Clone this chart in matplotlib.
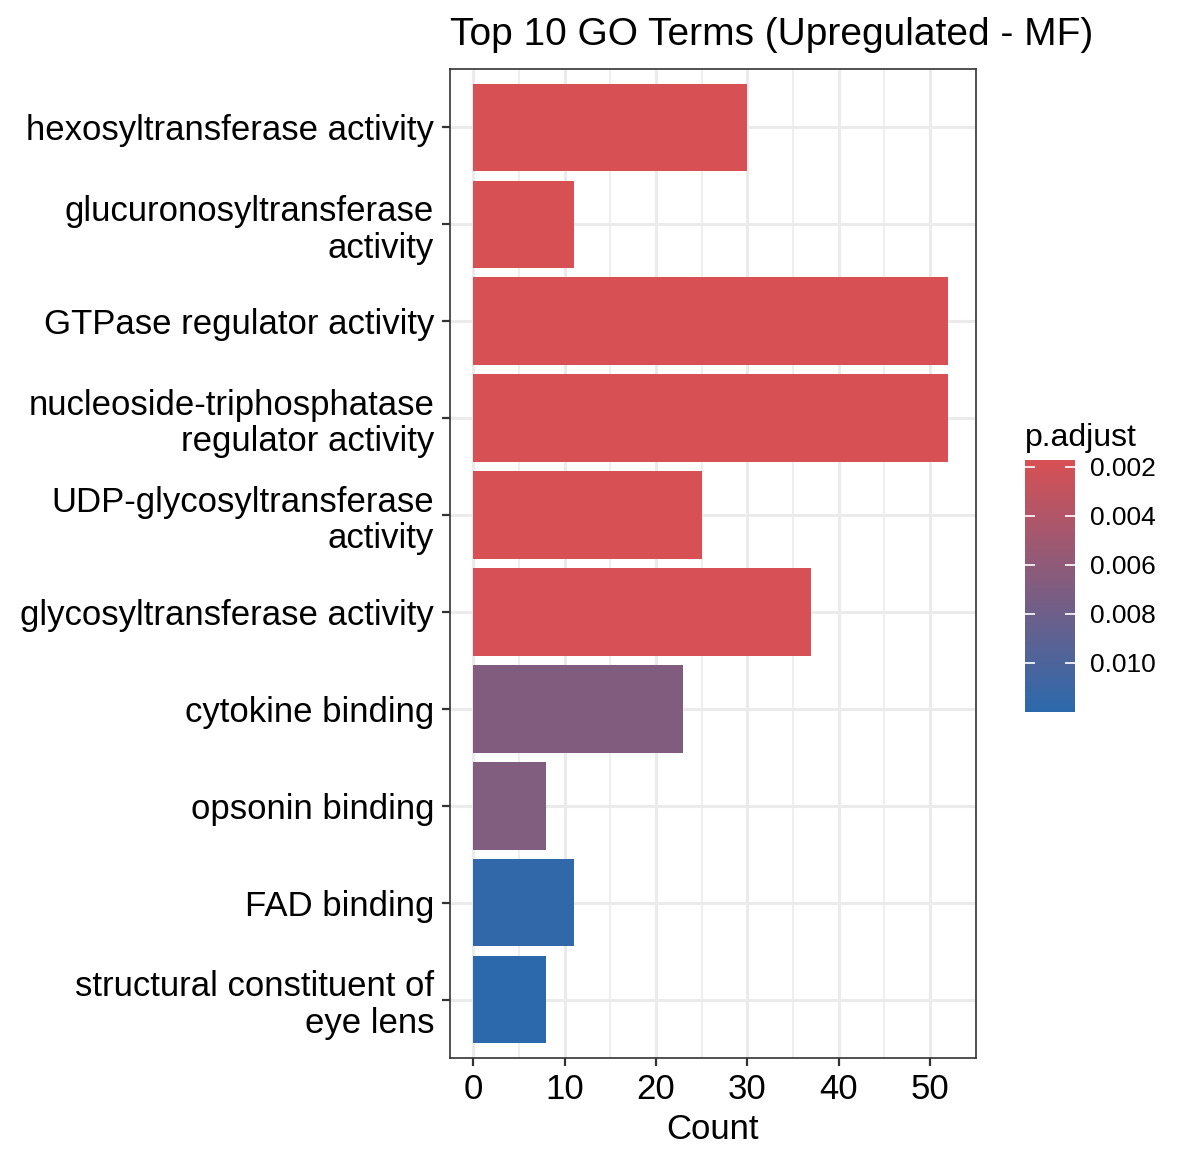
import matplotlib
matplotlib.use("Agg")
import matplotlib.pyplot as plt
from matplotlib.colors import LinearSegmentedColormap, Normalize
from matplotlib.cm import ScalarMappable
import numpy as np

# GO terms, top to bottom as shown
terms = [
    "hexosyltransferase activity",
    "glucuronosyltransferase\nactivity",
    "GTPase regulator activity",
    "nucleoside-triphosphatase\nregulator activity",
    "UDP-glycosyltransferase\nactivity",
    "glycosyltransferase activity",
    "cytokine binding",
    "opsonin binding",
    "FAD binding",
    "structural constituent of\neye lens",
]
counts = [30, 11, 52, 52, 25, 37, 23, 8, 11, 8]
p_adjust = [0.00172, 0.00175, 0.00176, 0.00176, 0.00180, 0.00182,
            0.0068, 0.0069, 0.0117, 0.0120]
x_ticks = [0, 10, 20, 30, 40, 50]
cbar_ticks = [0.002, 0.004, 0.006, 0.008, 0.010]

plt.rcParams["font.family"] = ["Liberation Sans", "DejaVu Sans"]

fig = plt.figure(figsize=(11.88, 11.63), dpi=100)
ax = fig.add_axes([449.5 / 1188, 1 - 1058 / 1163, 526 / 1188, 989 / 1163])

cmap = LinearSegmentedColormap.from_list("padj", ["#d75054", "#2b69ac"])
norm = Normalize(vmin=min(p_adjust), vmax=max(p_adjust))

n = len(terms)
ypos = np.arange(n)[::-1] + 1
ax.barh(ypos, counts, height=0.9, color=cmap(norm(np.array(p_adjust))), zorder=3)

xmax = max(counts)
ax.set_xlim(-0.05 * xmax, 1.05 * xmax)
ax.set_ylim(0.4, n + 0.6)

ax.set_xticks(x_ticks)
ax.set_xticks([5, 15, 25, 35, 45, 55], minor=True)
ax.set_yticks(ypos)
ax.set_yticklabels(terms, ha="right", linespacing=1.15)
ax.grid(True, which="major", color="#ebebeb", linewidth=2.2, zorder=0)
ax.grid(True, which="minor", axis="x", color="#ebebeb", linewidth=1.1, zorder=0)
ax.set_axisbelow(True)
ax.tick_params(axis="both", which="major", labelsize=25, length=6, width=1.6,
               color="#333333", labelcolor="black", pad=5)
ax.tick_params(axis="x", which="minor", length=0)
for s in ax.spines.values():
    s.set_color("#333333")
    s.set_linewidth(1.2)

ax.set_xlabel("Count", fontsize=25, labelpad=5)
ax.set_title("Top 10 GO Terms (Upregulated - MF)", fontsize=28, loc="left", pad=17)

# colour bar legend
cax = fig.add_axes([1025 / 1188, 1 - 712 / 1163, 50 / 1188, 252 / 1163])
sm = ScalarMappable(norm=norm, cmap=cmap)
cb = fig.colorbar(sm, cax=cax)
cax.invert_yaxis()
cb.outline.set_visible(False)
cb.set_ticks(cbar_ticks)
cb.set_ticklabels([f"{t:.3f}" for t in cbar_ticks])
cax.yaxis.set_ticks_position("both")
cax.tick_params(axis="y", direction="in", length=7, width=1.2, color="white",
                labelsize=19, pad=11, right=True, left=True, labelleft=False,
                labelright=True)
cax.set_title("p.adjust", fontsize=23, loc="left", pad=10)

fig.savefig("out.png", dpi=100, facecolor="white")
